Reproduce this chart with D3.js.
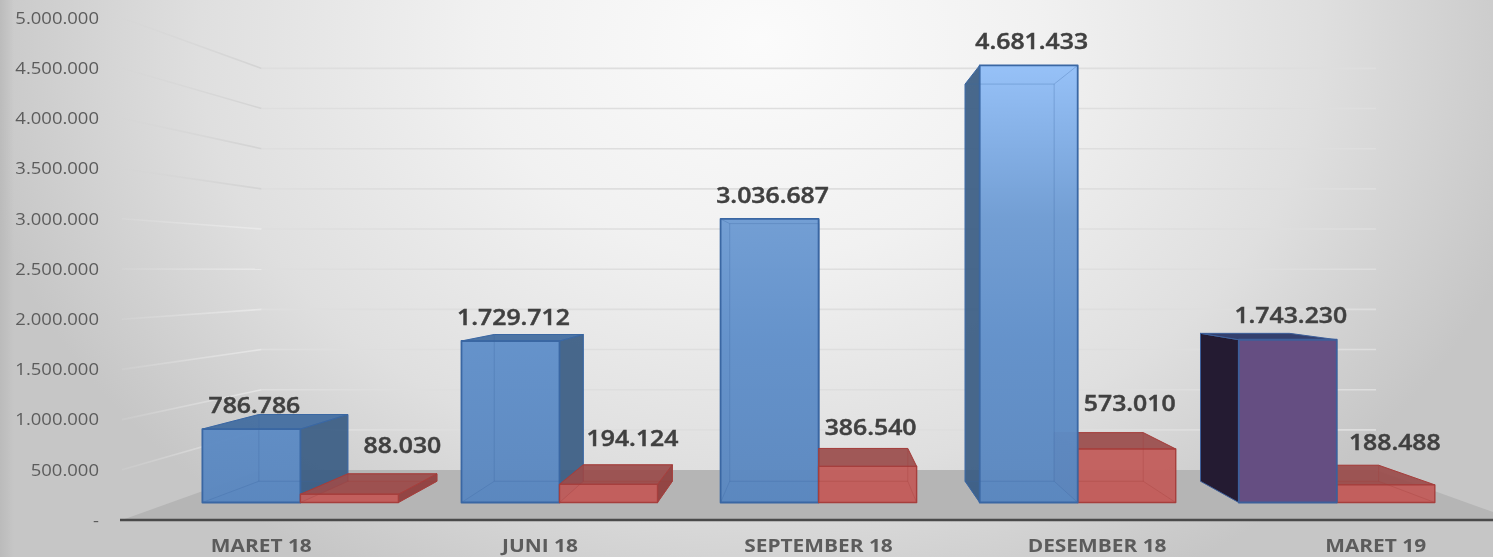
<!DOCTYPE html>
<html>
<head>
<meta charset="utf-8">
<style>
	html, body { margin: 0; padding: 0; background: #d2d2d2; overflow: hidden; }
	svg { display: block; filter: blur(0.65px); }
	text { font-family: 'Open Sans', sans-serif; }
</style>
<script src="https://cdnjs.cloudflare.com/ajax/libs/d3/7.8.5/d3.min.js"></script>
</head>
<body>
<svg id="chart"></svg>
<script>
// values
const categories = ['MARET 18', 'JUNI 18', 'SEPTEMBER 18', 'DESEMBER 18', 'MARET 19'];
const blueValues = [786786, 1729712, 3036687, 4681433, 1743230];
const redValues = [88030, 194124, 386540, 573010, 188488];
const yTicks = [0, 500000, 1000000, 1500000, 2000000, 2500000, 3000000, 3500000, 4000000, 4500000, 5000000];

const vWidth = 1493;
const vHeight = 557;

// the excel 3d chart is a plain perspective: everything shrinks to one point
const vanishX = 820;
const vanishY = 270;
const depthWall = 0.8;
const depthBarFront = 0.93;
const depthBarBack = 0.845;

const svg = d3.select('#chart').attr('width', vWidth).attr('height', vHeight);
const defs = svg.append('defs');

const xBand = d3.scaleBand().domain(categories).range([122, 1515]);
const yScale = d3.scaleLinear().domain([0, 5000000]).range([520, 18]);
const barWidth = 105.4;

const dotFormat = d3.formatLocale({ decimal: ',', thousands: '.', grouping: [3], currency: ['', ''] }).format(',');

function project(x, y, s) {
	return [vanishX + s * (x - vanishX), vanishY + s * (y - vanishY)];
}
const pathLine = d3.line();
function poly(points) {
	return pathLine(points) + 'Z';
}

// background
const bgGrad = defs.append('radialGradient')
	.attr('id', 'bgGrad')
	.attr('gradientUnits', 'userSpaceOnUse')
	.attr('cx', 0).attr('cy', 0).attr('r', 1)
	.attr('gradientTransform', 'translate(760,40) scale(800,620)');
[[0, '#fbfbfb'], [0.35, '#f1f1f1'], [0.7, '#dfdfdf'], [1, '#c6c6c6']].forEach(function(d) {
	bgGrad.append('stop').attr('offset', d[0]).attr('stop-color', d[1]);
});
svg.append('rect').attr('width', vWidth).attr('height', vHeight).attr('fill', 'url(#bgGrad)');

const edgeGrad = defs.append('linearGradient').attr('id', 'edgeGrad');
edgeGrad.append('stop').attr('offset', 0).attr('stop-color', '#b8b8b8').attr('stop-opacity', 0.8);
edgeGrad.append('stop').attr('offset', 1).attr('stop-color', '#b8b8b8').attr('stop-opacity', 0);
svg.append('rect').attr('width', 14).attr('height', vHeight).attr('fill', 'url(#edgeGrad)');

// blue fill runs with the screen height, so the tall bar gets the light top
const blueGrad = defs.append('linearGradient')
	.attr('id', 'blueGrad')
	.attr('gradientUnits', 'userSpaceOnUse')
	.attr('x1', 0).attr('x2', 0).attr('y1', 64).attr('y2', 502);
[[0, '#94c0f8'], [0.35, '#6f9cd3'], [0.63, '#6190ca'], [1, '#5a87bf']].forEach(function(d) {
	blueGrad.append('stop').attr('offset', d[0]).attr('stop-color', d[1]);
});

// side wall lines fade out towards the tick labels
// grey on the pale top of the wall, whitish on the darker bottom
function wallGradient(id, color, opacity) {
	const grad = defs.append('linearGradient')
		.attr('id', id)
		.attr('gradientUnits', 'userSpaceOnUse')
		.attr('x1', 122).attr('x2', 262).attr('y1', 0).attr('y2', 0);
	grad.append('stop').attr('offset', 0).attr('stop-color', color).attr('stop-opacity', 0.1);
	grad.append('stop').attr('offset', 1).attr('stop-color', color).attr('stop-opacity', opacity);
}
wallGradient('wallGradUpper', '#d2d2d2', 0.9);
wallGradient('wallGradLower', '#f0f0f0', 0.6);

// floor
const floorLeft = xBand.range()[0];
const floorRight = xBand.range()[1];
svg.append('path')
	.attr('d', poly([
		project(floorLeft, yScale(0), 1),
		project(floorLeft, yScale(0), depthWall),
		project(floorRight, yScale(0), depthWall),
		project(floorRight, yScale(0), 1)
	]))
	.attr('fill', '#b5b5b5');

// gridlines: side wall then back wall
const gridLevels = yTicks.filter(d => d > 0);
svg.append('g')
	.selectAll('path')
	.data(gridLevels)
	.enter()
	.append('path')
	.attr('d', d => pathLine([project(floorLeft, yScale(d), 1), project(floorLeft, yScale(d), depthWall)]))
	.attr('fill', 'none')
	.attr('stroke', d => (d >= 3500000 ? 'url(#wallGradUpper)' : 'url(#wallGradLower)'))
	.attr('stroke-width', 1.6);
svg.append('g')
	.selectAll('path')
	.data(gridLevels)
	.enter()
	.append('path')
	.attr('d', d => pathLine([project(floorLeft, yScale(d), depthWall), project(floorRight, yScale(d), depthWall)]))
	.attr('fill', 'none')
	.attr('stroke', '#dedede')
	.attr('stroke-width', 1.6);

const blueStyle = {
	front: 'url(#blueGrad)', frontOpacity: 0.97, side: '#395c83', top: '#3f6a9e',
	stroke: '#3a67a3', inner: '#3a67a3', strokeWidth: 1.8
};
const purpleStyle = {
	front: '#654e82', frontOpacity: 1, side: '#241b32', top: '#34406e',
	stroke: '#3d5f9a', inner: '#654e82', strokeWidth: 1.8
};
const redStyle = {
	front: '#c25e5c', frontOpacity: 0.96, side: '#8f3f3e', top: '#9a4c4b',
	stroke: '#a63f3d', inner: '#a33a38', strokeWidth: 1.4
};

function drawBox(parent, x0, x1, value, style) {
	const yTop = yScale(value);
	const yBase = yScale(0);
	const fTL = project(x0, yTop, depthBarFront);
	const fTR = project(x1, yTop, depthBarFront);
	const fBL = project(x0, yBase, depthBarFront);
	const fBR = project(x1, yBase, depthBarFront);
	const bTL = project(x0, yTop, depthBarBack);
	const bTR = project(x1, yTop, depthBarBack);
	const bBL = project(x0, yBase, depthBarBack);
	const bBR = project(x1, yBase, depthBarBack);

	const g = parent.append('g').attr('stroke-linejoin', 'round');

	// floor of the box peeks out round the front
	g.append('path')
		.attr('d', poly([fBL, fBR, bBR, bBL]))
		.attr('fill', style.front).attr('fill-opacity', 0.5);

	// side that faces us, depends on which side of the vanishing point the bar is
	const sideFace = x1 < vanishX ? [fTR, bTR, bBR, fBR] : [fTL, bTL, bBL, fBL];
	const otherFace = x1 < vanishX ? [fTL, bTL, bBL, fBL] : [fTR, bTR, bBR, fBR];
	const seesSide = x1 < vanishX || x0 > vanishX;
	if (seesSide) {
		g.append('path')
			.attr('d', poly(sideFace))
			.attr('fill', style.side).attr('fill-opacity', style.frontOpacity < 1 ? 0.92 : 1)
			.attr('stroke', style.stroke);
	}

	// top only seen when it is under the horizon
	if (fTL[1] > vanishY) {
		g.append('path')
			.attr('d', poly([fTL, fTR, bTR, bTL]))
			.attr('fill', style.top).attr('fill-opacity', style.frontOpacity < 1 ? 0.92 : 1)
			.attr('stroke', style.stroke);
	}

	g.append('path')
		.attr('d', poly([fTL, fTR, fBR, fBL]))
		.attr('fill', style.front).attr('fill-opacity', style.frontOpacity)
		.attr('stroke', style.stroke).attr('stroke-width', style.strokeWidth);

	// back edges showing through the glass front
	if (style.frontOpacity < 1) {
		g.append('path')
			.attr('d', poly([bTL, bTR, bBR, bBL]))
			.attr('fill', 'none')
			.attr('stroke', style.inner).attr('stroke-opacity', 0.3);
		g.append('path')
			.attr('d', pathLine([fBL, bBL]) + pathLine([fBR, bBR]) + pathLine(otherFace.slice(0, 2)))
			.attr('fill', 'none')
			.attr('stroke', style.inner).attr('stroke-opacity', 0.3);
	}
}

const barsG = svg.append('g');
categories.forEach(function(cat, i) {
	const mid = xBand(cat) + xBand.bandwidth() / 2;
	const drawBlue = function() {
		drawBox(barsG, mid - barWidth, mid, blueValues[i], i === 4 ? purpleStyle : blueStyle);
	};
	const drawRed = function() {
		drawBox(barsG, mid, mid + barWidth, redValues[i], redStyle);
	};
	// nearer to the vanishing point goes first
	if (mid < vanishX) {
		drawBlue();
		drawRed();
	} else {
		drawRed();
		drawBlue();
	}
});

// axis line
svg.append('line')
	.attr('x1', floorLeft - 2).attr('x2', vWidth)
	.attr('y1', yScale(0)).attr('y2', yScale(0))
	.attr('stroke', '#4a4a4a').attr('stroke-width', 2.6);

// picture was stretched sideways, the text with it
function stretchText(sel, factor) {
	sel.each(function() {
		const len = this.getComputedTextLength();
		d3.select(this)
			.attr('textLength', len * factor)
			.attr('lengthAdjust', 'spacingAndGlyphs');
	});
}

// axes
const yAxis = d3.axisLeft(yScale)
	.tickValues(yTicks)
	.tickSize(0)
	.tickPadding(0)
	.tickFormat(d => (d === 0 ? '-' : dotFormat(d)));
const yG = svg.append('g').attr('transform', 'translate(99,0)').call(yAxis);
yG.select('.domain').remove();
yG.selectAll('text')
	.attr('font-size', 16.5)
	.attr('font-family', "'Open Sans', sans-serif")
	.attr('fill', '#5c5c5c');
stretchText(yG.selectAll('text'), 1.12);

const xAxis = d3.axisBottom(xBand).tickSize(0).tickPadding(0);
const xG = svg.append('g').attr('transform', 'translate(0,539)').call(xAxis);
xG.select('.domain').remove();
xG.selectAll('text')
	.attr('font-size', 18)
	.attr('font-weight', 700)
	.attr('font-family', "'Open Sans', sans-serif")
	.attr('fill', '#5c5c5c');
stretchText(xG.selectAll('text'), 1.16);

// data labels, excel dropped the red ones where it liked so they get nudged
const redLabelDx = [53, 24, 3, 3, 9];
const redLabelDy = [-47, -44, -37, -44, -40];

const labelG = svg.append('g')
	.attr('text-anchor', 'middle')
	.attr('font-size', 21)
	.attr('font-weight', 600)
	.attr('fill', '#404040')
	.attr('stroke', '#404040')
	.attr('stroke-width', 0.45);

categories.forEach(function(cat, i) {
	const mid = xBand(cat) + xBand.bandwidth() / 2;
	const blueTop = project(mid - barWidth / 2, yScale(blueValues[i]), depthBarFront);
	const redTop = project(mid + barWidth / 2, yScale(redValues[i]), depthBarFront);
	labelG.append('text')
		.attr('x', blueTop[0] + 3)
		.attr('y', blueTop[1] - 24)
		.attr('dy', '0.36em')
		.text(dotFormat(blueValues[i]));
	labelG.append('text')
		.attr('x', redTop[0] + redLabelDx[i])
		.attr('y', redTop[1] + redLabelDy[i] - 2)
		.attr('dy', '0.36em')
		.text(dotFormat(redValues[i]));
});
stretchText(labelG.selectAll('text'), 1.18);
</script>
</body>
</html>
